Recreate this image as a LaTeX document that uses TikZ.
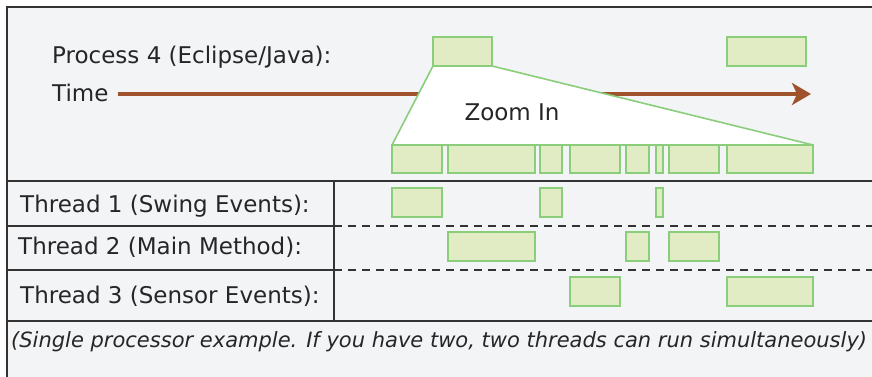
\documentclass[tikz,border=0pt]{standalone}
\usepackage{fontspec}
\setmainfont{DejaVu Sans}
\usetikzlibrary{arrows.meta, positioning, calc}
\definecolor{panel}{HTML}{F3F4F6}
\definecolor{rule}{HTML}{333333}
\definecolor{ink}{HTML}{262626}
\definecolor{slicefill}{HTML}{E1EBC4}
\definecolor{sliceline}{HTML}{8ACD7B}
\definecolor{timeline}{HTML}{A0522D}
\pgfdeclarelayer{behind}
\pgfdeclarelayer{funnel}
\pgfsetlayers{behind,funnel,main}
\tikzset{
         myslice/.style={draw=sliceline, fill=slicefill, line width=2pt, inner sep=0pt, outer sep=0pt, anchor=north west, minimum height=29pt},
         mylabel/.style={text=ink, inner sep=0pt, anchor=base west, font=\fontsize{23}{26}\selectfont},
         mynote/.style={text=ink, inner sep=0pt, anchor=base west, font=\fontsize{21}{25}\selectfont\itshape},
         myrule/.style={draw=rule, line width=1.7pt},
         mydash/.style={draw=rule, line width=1.7pt, dash pattern=on 8pt off 6pt},
         mytime/.style={draw=timeline, line width=4.6pt, -{Stealth[length=19pt, width=22pt, inset=5pt]}},
         myfunnel/.style={draw=sliceline, fill=white, line width=1.6pt, line join=round}
      }

\begin{document}
\begin{tikzpicture}[x=1pt, y=-1pt]
  \useasboundingbox (0,0) rectangle (872,377);

  % panel and table rules
  \begin{pgfonlayer}{behind}
    \fill[white] (0,0) rectangle (872,377);
    \fill[panel] (7,7) rectangle (880,385);
    \draw[myrule] (7,385) -- (7,7) -- (880,7);
    \draw[myrule] (7,181) -- (880,181);
    \draw[myrule] (7,321) -- (880,321);
    \draw[myrule] (334,181) -- (334,321);
    \draw[myrule] (7,226) -- (334,226);
    \draw[myrule] (7,270) -- (334,270);
    \draw[mydash] (334,226) -- (880,226);
    \draw[mydash] (334,270) -- (880,270);
  \end{pgfonlayer}

  % labels
  \node[mylabel] (proc) at (52,64) {Process 4 (Eclipse/Java):};
  \node[mylabel] (time) at (52,102) {Time};
  \node[mylabel] (thr1) at (20,212) {Thread 1 (Swing Events):};
  \node[mylabel] (thr2) at (18,254) {Thread 2 (Main Method):};
  \node[mylabel] (thr3) at (20,303) {Thread 3 (Sensor Events):};
  \node[mynote] (note) at (11,347) {(Single processor example. If you have two, two threads can run simultaneously)};

  % time axis
  \coordinate (tend) at (811,94);
  \begin{pgfonlayer}{behind}
    \draw[mytime] (time.east |- tend) ++(9,0) -- (tend);
  \end{pgfonlayer}

  % process slices
  \node[myslice, minimum width=59pt] (p1) at (433,37) {};
  \node[myslice, minimum width=79pt] (p2) at (727,37) {};

  % zoomed-in slices
  \foreach \n/\a/\b in {1/392/442, 2/448/535, 3/540/562, 4/570/620,
                        5/626/649, 6/656/663, 7/669/719, 8/727/813}
    \node[myslice, minimum height=28pt, minimum width={(\b-\a)*1pt}] (z\n) at (\a,145) {};

  \begin{pgfonlayer}{funnel}
    \draw[myfunnel] (p1.south west) -- (z1.north west) -- (z8.north east) -- (p1.south east) -- cycle;
  \end{pgfonlayer}
  \node[text=ink, inner sep=0pt, anchor=base, font=\fontsize{23}{26}\selectfont] (zoom) at (512,121) {Zoom In};

  % the same slices, one row per thread
  \foreach \n/\a/\b/\r in {1/392/442/188, 3/540/562/188, 6/656/663/188,
                           2/448/535/232, 5/626/649/232, 7/669/719/232,
                           4/570/620/277, 8/727/813/277}
    \node[myslice, minimum width={(\b-\a)*1pt}] (s\n) at (\a,\r) {};

\end{tikzpicture}
\end{document}
